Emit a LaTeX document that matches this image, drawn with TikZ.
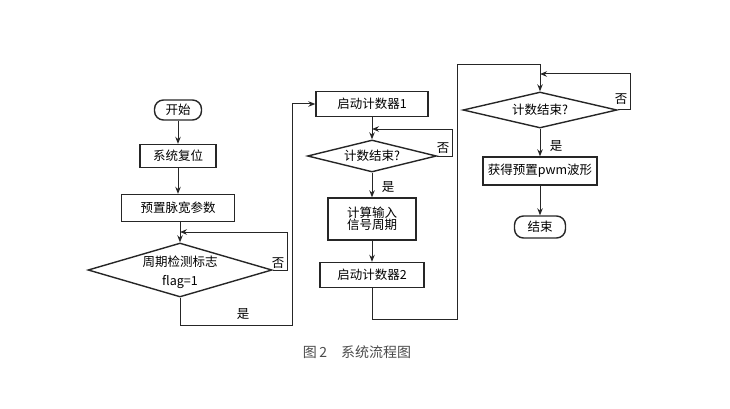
\documentclass[tikz,border=0pt]{standalone}
\usepackage{fontspec}
\newfontfamily\cjk{Noto Sans CJK SC}
\usetikzlibrary{shapes.geometric,arrows.meta}
\tikzset{>={Stealth[length=7pt,width=5.5pt]}}
\tikzset{
  procbox/.style={draw=black!85, line width=1.4pt, inner sep=0pt, font=\cjk\fontsize{12.5}{14}\selectfont},
  termbox/.style={draw=black!85, line width=1.4pt, rounded corners=9pt, inner sep=0pt, font=\cjk\fontsize{12.5}{14}\selectfont},
  decbox/.style={draw=black!85, line width=1.4pt, diamond, inner sep=0pt, font=\cjk\fontsize{12.5}{14}\selectfont},
  flow/.style={->, draw=black!85, line width=1pt},
  lbl/.style={font=\cjk\fontsize{12.5}{14}\selectfont},
}

\begin{document}
\begin{tikzpicture}[x=1pt,y=-1pt]
    \useasboundingbox (0,0) rectangle (730,409);
    % left column
    \node[termbox, minimum width=47pt, minimum height=20pt] (start) at (178,110) {开始};
    \node[procbox, minimum width=76pt, minimum height=23pt] (reset) at (178,156) {系统复位};
    \node[procbox, minimum width=113pt, minimum height=27pt] (preset) at (178,208) {预置脉宽参数};
    \node[decbox, minimum width=184pt, minimum height=54pt, aspect=3.4] (chk) at (180,270) {};
    \node[lbl] (chktxt1) at (180,262) {周期检测标志};
    \node[lbl] (chktxt2) at (180,282) {flag=1};
    %
    % middle column
    \node[procbox, minimum width=112pt, minimum height=25pt] (cnt1) at (372,104) {启动计数器1};
    \node[decbox, minimum width=129pt, minimum height=32pt, aspect=4] (end1) at (372,156) {计数结束?};
    \node[procbox, minimum width=88pt, minimum height=42pt, align=center] (calc) at (372,219) {计算输入\\[-2pt]信号周期};
    \node[procbox, minimum width=104pt, minimum height=25pt] (cnt2) at (372,275) {启动计数器2};
    %
    % right column
    \node[decbox, minimum width=154pt, minimum height=36pt, aspect=4.3] (end2) at (540,110) {计数结束?};
    \node[procbox, minimum width=114pt, minimum height=28pt] (pwm) at (540,171) {获得预置pwm波形};
    \node[termbox, minimum width=51pt, minimum height=22pt] (stop) at (540,227) {结束};
    %
    \coordinate (j1) at (180,232);
    \coordinate (j2) at (292,325);
    \coordinate (j3) at (372,129);
    \coordinate (j4) at (457,319);
    \coordinate (j5) at (540,65);
    \coordinate (j6) at (540,74);
    %
    \draw[flow] (start) -- (reset);
    \draw[flow] (reset) -- (preset);
    \draw[flow] (preset.south -| chk.north) -- (chk.north);
    \draw[flow] (chk.east) -- ++(15,0) |- (j1);
    \draw[flow] (chk.south) |- (j2) |- (cnt1.west);
    \draw[flow] (cnt1) -- (end1);
    \draw[flow] (end1.east) -- ++(15,0) |- (j3);
    \draw[flow] (end1) -- (calc);
    \draw[flow] (calc) -- (cnt2);
    \draw[flow] (cnt2.south) |- (j4) |- (j5) -- (end2.north);
    \draw[flow] (end2.east) -- ++(13,0) |- (j6);
    \draw[flow] (end2) -- (pwm);
    \draw[flow] (pwm) -- (stop);
    %
    \node[lbl] (no1) at (278,263) {否};
    \node[lbl] (yes1) at (243,314) {是};
    \node[lbl] (no2) at (443,148) {否};
    \node[lbl] (yes2) at (388,187) {是};
    \node[lbl] (no3) at (621,99) {否};
    \node[lbl] (yes3) at (556,146) {是};
    %
    \node[font=\cjk\fontsize{14}{16}\selectfont, text=black!70] (cap) at (357,352) {图\,2\quad 系统流程图};
\end{tikzpicture}
\end{document}
